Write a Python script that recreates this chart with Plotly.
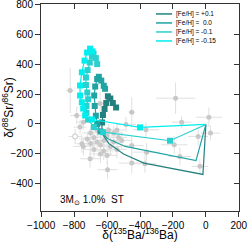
import plotly.graph_objects as go

# ---- grain data (grey points with errors) ----
grain_x = [-824, -184, -450, 18, -147, 28, -47, -364, -485, -511, -450, -192, -360, -158, -36,
           -450, -370, -597, -784, -744, -764, -753, -744, -703, -642,
           -700, -680, -660, -640, -620, -600, -580, -560, -540, -620, -660, -700, -720, -590,
           -560, -530, -680, -640, -600, -540]
grain_y = [223, 172, 79, 45, 12, -61, -83, -39, -3, -110, -143, -139, -188, -217, -283,
           -261, -265, -305, 57, 12, -21, -132, -150, -232, 137,
           -60, -90, -120, -140, -110, -80, -150, -120, -170, -180, -40, -130, -100, -40,
           -60, -90, -170, -200, -210, -40]
grain_xerr = [25, 120, 20, 80, 60, 60, 60, 80, 60, 60, 70, 80, 80, 70, 50,
              80, 70, 60, 40, 40, 40, 40, 60, 60, 30,
              50, 60, 50, 60, 50, 60, 70, 50, 60, 60, 50, 60, 50, 40,
              60, 50, 60, 70, 60, 50]
grain_yerr = [150, 105, 100, 65, 40, 50, 60, 50, 50, 60, 60, 60, 60, 60, 50,
              70, 60, 60, 60, 50, 50, 60, 60, 60, 80,
              50, 60, 50, 60, 50, 60, 60, 50, 60, 60, 50, 60, 50, 40,
              50, 50, 60, 60, 60, 50]

open_x = [-794]
open_y = [-83]
open_xerr = [40]
open_yerr = [50]

# ---- AGB model curves ----
feh_labels = ["[Fe/H] = +0.1", "[Fe/H] =  0.0", "[Fe/H] = -0.1", "[Fe/H] = -0.15"]
colors = ["#23807f", "#1fa3a3", "#2ad0d0", "#00eeee"]

m_p01_x = [0, -18, -376, -500, -590, -632, -630, -625, -615, -605, -595, -580, -565, -545]
m_p01_y = [-3, -337, -261, -200, -130, -60, 10, 60, 100, 140, 185, 170, 140, 110]
m_p01_mark = 6

m_00_x = [0, -60, -490, -600, -640, -660, -668, -675, -678, -672, -660, -650, -635, -620, -612]
m_00_y = [-3, -245, -150, -95, -50, 0, 55, 120, 190, 250, 300, 315, 290, 255, 235]
m_00_mark = 4

m_m01_x = [0, -218, -624, -680, -715, -725, -725, -715, -720, -728, -728, -718, -705, -692, -682, -668, -660]
m_m01_y = [-3, -112, -55, -20, 30, 75, 120, 165, 210, 260, 310, 360, 410, 450, 470, 440, 400]
m_m01_mark = 1

m_m015_x = [0, -400, -691, -733, -745, -753, -764, -764, -753, -737, -721, -703, -688]
m_m015_y = [-3, -23, 30, 57, 103, 145, 190, 257, 345, 423, 477, 503, 485]
m_m015_mark = 1

models = [(m_p01_x, m_p01_y, m_p01_mark), (m_00_x, m_00_y, m_00_mark),
          (m_m01_x, m_m01_y, m_m01_mark), (m_m015_x, m_m015_y, m_m015_mark)]

x_ticks = [-1000, -800, -600, -400, -200, 0, 200]
y_ticks = [-400, -200, 0, 200, 400, 600, 800]
x_range = [-1001, 201]
y_range = [-581, 801]

FONT = "Liberation Sans, Arial"

fig = go.Figure()

fig.add_trace(go.Scatter(
    x=grain_x, y=grain_y, mode="markers",
    marker=dict(color="#c8c8c8", size=5),
    error_x=dict(type="data", array=grain_xerr, color="#e0e0e0", thickness=1, width=0),
    error_y=dict(type="data", array=grain_yerr, color="#e0e0e0", thickness=1, width=0),
    showlegend=False, hoverinfo="skip"))
fig.add_trace(go.Scatter(
    x=open_x, y=open_y, mode="markers",
    marker=dict(color="white", size=5, line=dict(color="#c4c4c4", width=1)),
    error_x=dict(type="data", array=open_xerr, color="#e0e0e0", thickness=1, width=0),
    error_y=dict(type="data", array=open_yerr, color="#e0e0e0", thickness=1, width=0),
    showlegend=False, hoverinfo="skip"))

for (mx, my, mstart), lab, col in zip(models, feh_labels, colors):
    fig.add_trace(go.Scatter(x=mx, y=my, mode="lines", name=lab,
                             line=dict(color=col, width=1.2), showlegend=False))
    fig.add_trace(go.Scatter(x=mx[mstart:], y=my[mstart:], mode="markers",
                             marker=dict(color=col, size=6, symbol="square"),
                             showlegend=False))

# compact legend (line sample + label) in paper coordinates
leg_x0, leg_x1, leg_tx = 0.581, 0.662, 0.672
leg_top, leg_step = 0.952, 0.0435
for i, (lab, col) in enumerate(zip(feh_labels, colors)):
    yy = leg_top - i * leg_step
    fig.add_shape(type="line", xref="paper", yref="paper", x0=leg_x0, x1=leg_x1, y0=yy, y1=yy,
                  line=dict(color=col, width=1.5))
    fig.add_annotation(x=leg_tx, y=yy, xref="paper", yref="paper", xanchor="left", yanchor="middle",
                       text=lab, showarrow=False, font=dict(family=FONT, size=6.5, color="black"))

# dummy trace for mirrored inside ticks on top/right
fig.add_trace(go.Scatter(x=[None], y=[None], xaxis="x2", yaxis="y2", showlegend=False))

fig.add_annotation(x=-900, y=-510, xref="x", yref="y", xanchor="left", yanchor="middle",
                   text="3M<sub>⊙</sub> 1.0%  ST", showarrow=False,
                   font=dict(family=FONT, size=10, color="black"))

tick_common = dict(ticklen=5, tickcolor="#333", showline=True, linecolor="#333", linewidth=1,
                   showgrid=False, zeroline=False, automargin=False)
fig.update_layout(
    width=249, height=242,
    margin=dict(l=41, r=10, t=4, b=31, autoexpand=False),
    paper_bgcolor="white", plot_bgcolor="white",
    font=dict(family=FONT, size=10, color="black"),
    showlegend=False,
    xaxis=dict(range=x_range, tickvals=x_ticks, ticktext=[str(v).replace("-", "−") for v in x_ticks],
               ticks="outside", mirror=True, ticklabeloverflow="allow",
               title=dict(text="δ(<sup>135</sup>Ba/<sup>136</sup>Ba)", font=dict(size=12), standoff=4),
               **tick_common),
    yaxis=dict(range=y_range, tickvals=y_ticks, ticktext=[str(v).replace("-", "−") for v in y_ticks],
               ticks="outside", mirror=True, ticklabeloverflow="allow",
               title=dict(text="δ(<sup>88</sup>Sr/<sup>86</sup>Sr)", font=dict(size=12), standoff=4),
               **tick_common),
    xaxis2=dict(range=x_range, overlaying="x", side="top", tickvals=x_ticks, showticklabels=False,
                ticks="inside", **tick_common),
    yaxis2=dict(range=y_range, overlaying="y", side="right", tickvals=y_ticks, showticklabels=False,
                ticks="inside", **tick_common),
)

fig.write_html("out.html", config={"displayModeBar": False},
               post_script="document.body.style.margin='0';document.body.style.overflow='hidden';")
